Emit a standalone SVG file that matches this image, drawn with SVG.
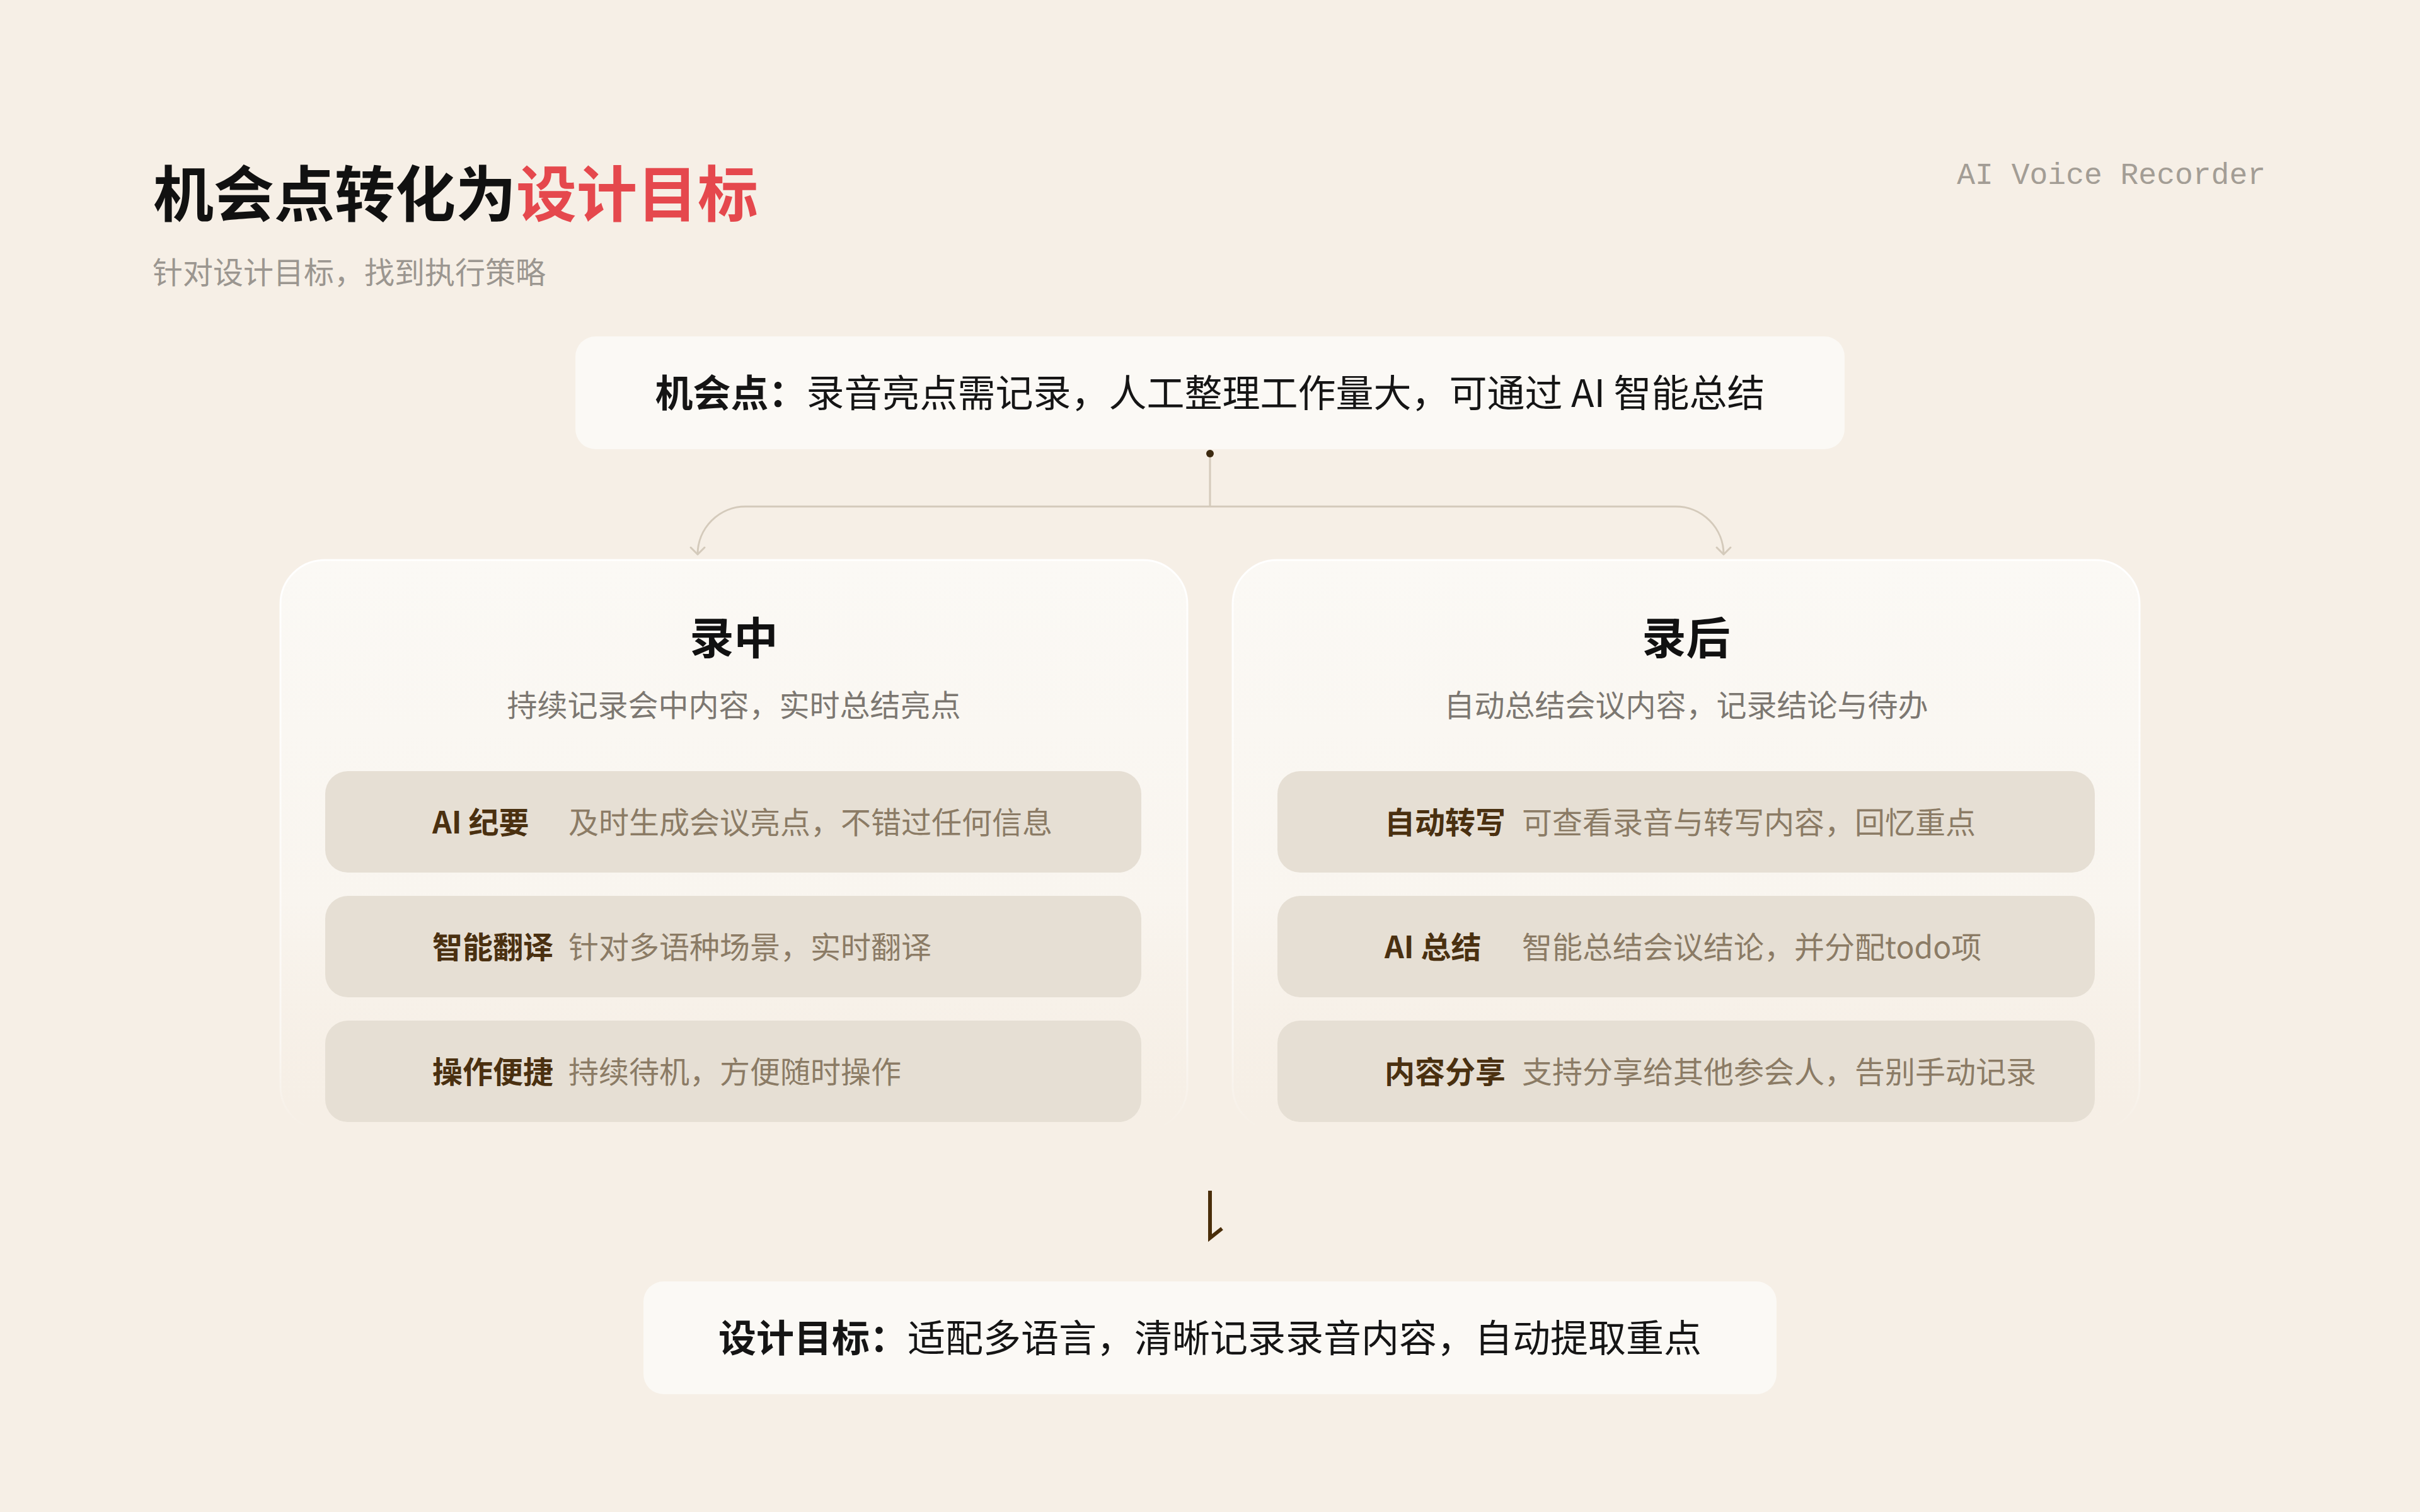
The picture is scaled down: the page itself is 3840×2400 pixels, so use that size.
<svg xmlns="http://www.w3.org/2000/svg" width="3840" height="2400" viewBox="0 0 3840 2400">
<style>
text{font-family:"Noto Sans CJK SC","Noto Sans",sans-serif;dominant-baseline:central}
.title{font-size:96px;font-weight:700;fill:#111}
.sub{font-size:48px;fill:#9b9690}
.brand{font-family:"Liberation Mono","DejaVu Sans Mono",monospace;font-size:48px;fill:#a39d95;dominant-baseline:auto}
.box{fill:#fbf9f5}
.boxtxt{font-size:60px;fill:#151515;text-anchor:middle}
.b{font-weight:700}
.card{fill:url(#cardFill);stroke:url(#cardStroke);stroke-width:3}
.ctitle{font-size:70px;font-weight:700;fill:#111;text-anchor:middle}
.csub{font-size:48px;fill:#7c7771;text-anchor:middle}
.row{fill:#e6dfd4}
.lab{font-size:48px;font-weight:700;fill:#4a3010}
.desc{font-size:48px;fill:#8b7b65}
.conn{fill:none;stroke:#d4cabb;stroke-width:3}
</style>
<defs>
<linearGradient id="cardFill" x1="0" y1="0" x2="0" y2="1">
<stop offset="0" stop-color="#fbf9f5"/>
<stop offset="0.6" stop-color="#f9f5ef"/>
<stop offset="1" stop-color="#f6efe6" stop-opacity="0"/>
</linearGradient>
<linearGradient id="cardStroke" x1="0" y1="0" x2="0" y2="1">
<stop offset="0" stop-color="#ffffff"/>
<stop offset="0.85" stop-color="#ffffff" stop-opacity="0.5"/>
<stop offset="1" stop-color="#ffffff" stop-opacity="0"/>
</linearGradient>
<marker id="chev" markerUnits="userSpaceOnUse" markerWidth="40" markerHeight="40" refX="0" refY="0" orient="auto" overflow="visible">
<path d="M-11,-11 L0,0 L-11,11" fill="none" stroke="#d4cabb" stroke-width="3" stroke-linecap="round" stroke-linejoin="round"/>
</marker>
</defs>
<rect width="3840" height="2400" fill="#f6efe6"/>

<g id="header">
<text class="title" x="243" y="301">机会点转化为<tspan fill="#e5484d">设计目标</tspan></text>
<text class="sub" x="242" y="429">针对设计目标，找到执行策略</text>
<text class="brand" x="3595" y="292" text-anchor="end">AI Voice Recorder</text>
</g>

<g id="opportunity">
<rect class="box" x="913" y="534" width="2014" height="179" rx="32"/>
<text class="boxtxt" x="1920" y="619"><tspan class="b">机会点：</tspan>录音亮点需记录，人工整理工作量大，可通过 AI 智能总结</text>
</g>

<g id="card-during">
<rect class="card" x="445" y="889" width="1439" height="905" rx="70"/>
<text class="ctitle" x="1164.5" y="1008">录中</text>
<text class="csub" x="1164.5" y="1116">持续记录会中内容，实时总结亮点</text>
<rect class="row" x="516" y="1224" width="1295" height="161" rx="36"/>
<text class="lab" x="686" y="1302">AI 纪要</text>
<text class="desc" x="902" y="1302">及时生成会议亮点，不错过任何信息</text>
<rect class="row" x="516" y="1422" width="1295" height="161" rx="36"/>
<text class="lab" x="686" y="1500">智能翻译</text>
<text class="desc" x="902" y="1500">针对多语种场景，实时翻译</text>
<rect class="row" x="516" y="1620" width="1295" height="161" rx="36"/>
<text class="lab" x="686" y="1698">操作便捷</text>
<text class="desc" x="902" y="1698">持续待机，方便随时操作</text>
</g>

<g id="card-after">
<rect class="card" x="1956" y="889" width="1439" height="905" rx="70"/>
<text class="ctitle" x="2675.5" y="1008">录后</text>
<text class="csub" x="2675.5" y="1116">自动总结会议内容，记录结论与待办</text>
<rect class="row" x="2027" y="1224" width="1297" height="161" rx="36"/>
<text class="lab" x="2197" y="1302">自动转写</text>
<text class="desc" x="2415" y="1302">可查看录音与转写内容，回忆重点</text>
<rect class="row" x="2027" y="1422" width="1297" height="161" rx="36"/>
<text class="lab" x="2197" y="1500">AI 总结</text>
<text class="desc" x="2415" y="1500">智能总结会议结论，并分配todo项</text>
<rect class="row" x="2027" y="1620" width="1297" height="161" rx="36"/>
<text class="lab" x="2197" y="1698">内容分享</text>
<text class="desc" x="2415" y="1698">支持分享给其他参会人，告别手动记录</text>
</g>

<g id="goal">
<rect class="box" x="1021" y="2034" width="1798" height="179" rx="32"/>
<text class="boxtxt" x="1920" y="2119"><tspan class="b">设计目标：</tspan>适配多语言，清晰记录录音内容，自动提取重点</text>
</g>

<g id="connectors">
<path class="conn" d="M1920 720 V804"/>
<path class="conn" d="M1920 804 H1183 A76 76 0 0 0 1107 880" marker-end="url(#chev)"/>
<path class="conn" d="M1920 804 H2659 A76 76 0 0 1 2735 880" marker-end="url(#chev)"/>
<circle cx="1920" cy="720" r="6" fill="#3d2a10"/>
<path d="M1920 1890 V1965 L1939 1950" fill="none" stroke="#4a2e0a" stroke-width="6"/>
</g>
</svg>
